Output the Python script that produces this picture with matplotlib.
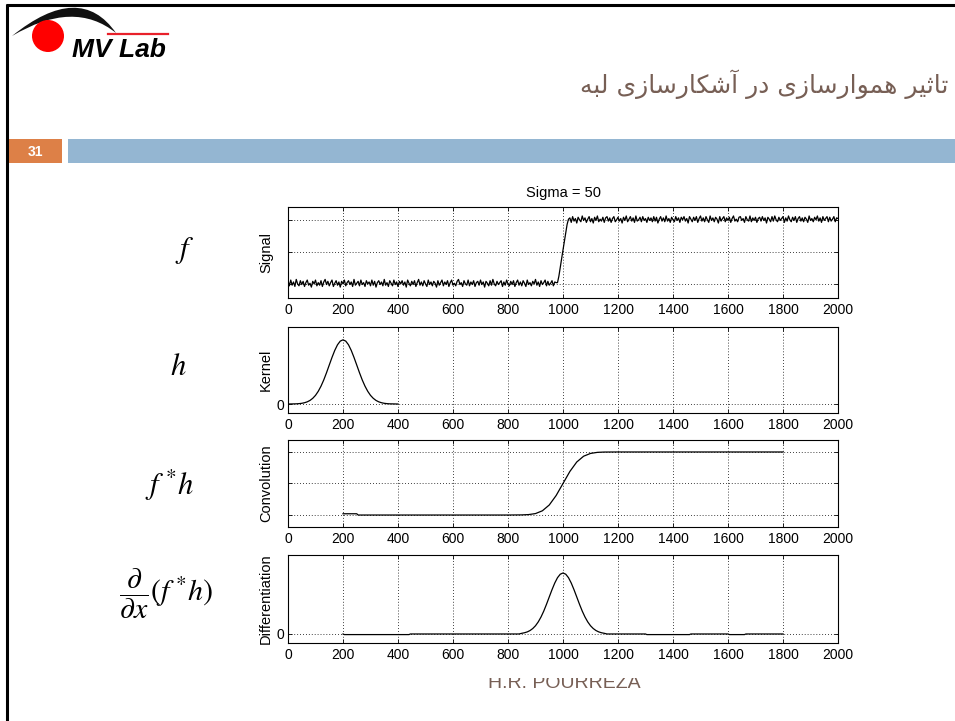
import numpy as np
import matplotlib
matplotlib.use("Agg")
import matplotlib.pyplot as plt
from matplotlib.patches import Rectangle, Circle, PathPatch
from matplotlib.path import Path

plt.rcParams["font.family"] = ["Liberation Sans", "DejaVu Sans"]
plt.rcParams["mathtext.fontset"] = "stix"

# ---- data ----
x_ticks = [0, 200, 400, 600, 800, 1000, 1200, 1400, 1600, 1800, 2000]

# noisy step signal, sampled every 5 units (0..2000)
signal_x = np.arange(0, 2001, 5)
signal_low = [
    0.05, -0.03, 0.06, -0.02, 0.03, -0.04, 0.07, 0.00, -0.03, 0.05, -0.01, 0.04, -0.04, 0.02,
    0.06, -0.02, 0.01, -0.05, 0.04, 0.00, 0.06, -0.03, 0.02, -0.02, 0.05, -0.04, 0.03, 0.07,
    -0.01, 0.04, -0.03, 0.02, 0.06, -0.04, 0.01, 0.05, -0.02, 0.03, -0.05, 0.04, 0.00, 0.06,
    -0.03, 0.02, 0.05, -0.01, 0.03, -0.04, 0.07, -0.02, 0.01, 0.04, -0.03, 0.06, -0.01, 0.02,
    -0.04, 0.05, 0.00, 0.03, -0.03, 0.06, -0.02, 0.04, -0.05, 0.02, 0.05, -0.01, 0.03, -0.03,
    0.07, -0.02, 0.02, -0.04, 0.05, 0.01, -0.03, 0.06, -0.01, 0.03, -0.04, 0.04, 0.00, 0.05,
    -0.02, 0.03, -0.05, 0.06, 0.01, -0.03, 0.04, -0.01, 0.05, -0.04, 0.02, 0.07, -0.02, 0.03,
    -0.03, 0.05, 0.00, -0.04, 0.06, -0.01, 0.03, -0.03, 0.04, 0.01, -0.05, 0.05, -0.02, 0.02,
    0.06, -0.03, 0.03, -0.01, 0.05, -0.04, 0.02, 0.06, -0.02, 0.01, -0.03, 0.04, 0.07, -0.01,
    0.02, -0.04, 0.05, 0.00, -0.02, 0.06, -0.03, 0.03, -0.01, 0.05, -0.04, 0.02, 0.04, -0.02,
    0.06, -0.01, 0.03, -0.05, 0.04, 0.01, -0.03, 0.05, -0.02, 0.07, 0.00, -0.03, 0.04, -0.01,
    0.02, 0.05, -0.04, 0.03, -0.02, 0.06, 0.00, -0.03, 0.04, -0.01, 0.05, -0.04, 0.02, 0.06,
    -0.02, 0.03, -0.03, 0.05, 0.01, -0.04, 0.06, -0.01, 0.02, -0.03, 0.04, 0.00, 0.07, -0.02,
    0.03, -0.04, 0.05, -0.01, 0.02, 0.06, -0.03, 0.04, -0.02, 0.01, 0.05, -0.03, 0.03, 0.02,
]
signal_ramp = [0.02, 0.12, 0.26, 0.40, 0.53, 0.66, 0.80, 0.93, 1.01]
signal_high = [
    1.03, 0.96, 1.05, 0.98, 1.02, 0.95, 1.04, 1.00, 0.97, 1.06, 0.99, 1.03, 0.96, 1.01,
    1.05, 0.97, 1.02, 0.95, 1.04, 0.99, 1.06, 0.97, 1.01, 0.98, 1.04, 0.96, 1.03, 1.05,
    0.98, 1.03, 0.96, 1.02, 1.05, 0.97, 1.00, 1.04, 0.98, 1.02, 0.95, 1.04, 0.99, 1.06,
    0.97, 1.01, 1.05, 0.98, 1.03, 0.96, 1.06, 0.98, 1.00, 1.04, 0.97, 1.05, 0.99, 1.02,
    0.96, 1.04, 0.99, 1.03, 0.97, 1.05, 0.98, 1.04, 0.95, 1.01, 1.05, 0.98, 1.03, 0.97,
    1.06, 0.98, 1.02, 0.96, 1.04, 1.00, 0.97, 1.05, 0.99, 1.03, 0.96, 1.04, 1.00, 1.05,
    0.98, 1.02, 0.95, 1.05, 1.01, 0.97, 1.04, 0.99, 1.05, 0.96, 1.02, 1.06, 0.98, 1.03,
    0.97, 1.05, 1.00, 0.96, 1.06, 0.99, 1.03, 0.97, 1.04, 1.01, 0.95, 1.05, 0.98, 1.02,
    1.05, 0.97, 1.03, 0.99, 1.04, 0.96, 1.02, 1.06, 0.98, 1.01, 0.97, 1.04, 1.05, 0.99,
    1.02, 0.96, 1.05, 1.00, 0.98, 1.06, 0.97, 1.03, 0.99, 1.04, 0.96, 1.02, 1.04, 0.98,
    1.05, 0.99, 1.03, 0.95, 1.04, 1.01, 0.97, 1.05, 0.98, 1.06, 1.00, 0.97, 1.04, 0.99,
    1.02, 1.05, 0.96, 1.03, 0.98, 1.06, 1.00, 0.97, 1.04, 0.99, 1.05, 0.96, 1.02, 1.05,
    0.98, 1.03, 0.97, 1.04, 1.01, 0.96, 1.06, 0.99, 1.02, 0.97, 1.04, 1.00, 1.06, 0.98,
    1.03, 0.96, 1.05, 0.99, 1.02, 1.05, 0.97, 1.04, 0.98, 1.01, 1.05, 0.97, 1.03, 1.02,
]
signal_y = signal_low + signal_ramp + signal_high

# gaussian kernel (sigma = 50), normalised to peak 1
kernel_x = np.arange(0, 401, 10)
kernel_y = [0.000, 0.001, 0.002, 0.003, 0.006, 0.011, 0.020, 0.034, 0.056, 0.089,
            0.135, 0.198, 0.278, 0.375, 0.487, 0.607, 0.726, 0.835, 0.923, 0.980,
            1.000,
            0.980, 0.923, 0.835, 0.726, 0.607, 0.487, 0.375, 0.278, 0.198, 0.135,
            0.089, 0.056, 0.034, 0.020, 0.011, 0.006, 0.003, 0.002, 0.001, 0.000]

# smoothed signal
conv_x = [200, 250, 255, 800, 850, 875, 900, 925, 950, 975, 1000,
          1025, 1050, 1075, 1100, 1125, 1150, 1200, 1800]
conv_y = [0.02, 0.02, 0.0, 0.0, 0.002, 0.007, 0.023, 0.067, 0.159, 0.309, 0.500,
          0.691, 0.841, 0.933, 0.977, 0.994, 0.999, 1.0, 1.0]

# derivative of the smoothed signal
peak_x = list(range(850, 1151, 10))
peak_y = [0.011, 0.020, 0.034, 0.056, 0.089, 0.135, 0.198, 0.278, 0.375, 0.487,
          0.607, 0.726, 0.835, 0.923, 0.980, 1.000, 0.980, 0.923, 0.835, 0.726,
          0.607, 0.487, 0.375, 0.278, 0.198, 0.135, 0.089, 0.056, 0.034, 0.020,
          0.011]
diff_x = [200, 205, 440, 445, 840] + peak_x + [1160, 1300, 1305, 1460, 1465,
                                               1600, 1605, 1660, 1665, 1800]
diff_y = [0.0, -0.01, -0.01, 0.0, 0.0] + peak_y + [0.0, 0.0, -0.01, -0.01, 0.0,
                                                   0.0, -0.01, -0.01, 0.0, 0.0]

# ---- persian title: join letters by hand (matplotlib does no shaping) ----
FORMS = {  # isolated, final, initial, medial
    "ا": ("\uFE8D", "\uFE8E", None, None),
    "آ": ("\uFE81", "\uFE82", None, None),
    "ب": ("\uFE8F", "\uFE90", "\uFE91", "\uFE92"),
    "ت": ("\uFE95", "\uFE96", "\uFE97", "\uFE98"),
    "ث": ("\uFE99", "\uFE9A", "\uFE9B", "\uFE9C"),
    "د": ("\uFEA9", "\uFEAA", None, None),
    "ر": ("\uFEAD", "\uFEAE", None, None),
    "ز": ("\uFEAF", "\uFEB0", None, None),
    "س": ("\uFEB1", "\uFEB2", "\uFEB3", "\uFEB4"),
    "ش": ("\uFEB5", "\uFEB6", "\uFEB7", "\uFEB8"),
    "ک": ("\uFB8E", "\uFB8F", "\uFB90", "\uFB91"),
    "ل": ("\uFEDD", "\uFEDE", "\uFEDF", "\uFEE0"),
    "م": ("\uFEE1", "\uFEE2", "\uFEE3", "\uFEE4"),
    "ه": ("\uFEE9", "\uFEEA", "\uFEEB", "\uFEEC"),
    "و": ("\uFEED", "\uFEEE", None, None),
    "ی": ("\uFBFC", "\uFBFD", "\uFBFE", "\uFBFF"),
}


def shape(text):
    out = []
    for i, ch in enumerate(text):
        if ch not in FORMS:
            out.append(ch)
            continue
        prev = text[i - 1] if i > 0 else ""
        nxt = text[i + 1] if i + 1 < len(text) else ""
        iso, fin, ini, med = FORMS[ch]
        joins_prev = prev in FORMS and FORMS[prev][2] is not None
        joins_next = ini is not None and nxt in FORMS
        if joins_prev and joins_next:
            out.append(med)
        elif joins_prev:
            out.append(fin)
        elif joins_next:
            out.append(ini)
        else:
            out.append(iso)
    return "".join(reversed(out))


title_fa = "تاثیر هموارسازی در آشکارسازی لبه"
brown = "#775F55"

# ---- slide background ----
W, H = 955, 721
fig = plt.figure(figsize=(W / 100, H / 100), dpi=100)
bg = fig.add_axes([0, 0, 1, 1])
bg.set_xlim(0, W)
bg.set_ylim(H, 0)
bg.axis("off")

# frame
bg.plot([6, W], [5, 5], color="black", lw=2.2, solid_capstyle="butt")
bg.plot([7, 7], [4, H], color="black", lw=2.2, solid_capstyle="butt")

# logo
swoosh = Path([(12, 36), (80, -19), (116, 33), (74, -1), (12, 36), (12, 36)],
              [Path.MOVETO, Path.CURVE3, Path.CURVE3, Path.CURVE3, Path.CURVE3,
               Path.CLOSEPOLY])
bg.add_patch(PathPatch(swoosh, facecolor="#111111", edgecolor="none"))
bg.add_patch(Circle((48, 36), 16, facecolor="#FF0000", edgecolor="none"))
bg.plot([108, 168], [33.5, 33.5], color="#E8202A", lw=1.6)
bg.text(72, 57, "MV Lab", fontsize=19, fontweight="bold", fontstyle="italic",
        color="black", ha="left", va="baseline")

# title
bg.text(948, 84, shape(title_fa), fontsize=18, color=brown,
        family="DejaVu Sans", ha="right", va="center")

# slide number bar
bg.add_patch(Rectangle((8, 139), 54, 24, facecolor="#DD8047", edgecolor="none"))
bg.add_patch(Rectangle((68, 139), W - 68, 24, facecolor="#94B6D2", edgecolor="none"))
bg.text(35, 151.5, "31", fontsize=10, fontweight="bold", color="white",
        ha="center", va="center")

# footer (its top is hidden under the pasted figure)
bg.text(564, 688, "H.R. POURREZA", fontsize=14, color=brown,
        ha="center", va="baseline", zorder=1)
bg.add_patch(Rectangle((255, 175), 610, 503, facecolor="white",
                       edgecolor="none", zorder=2))

# math labels on the left
bg.text(185, 251, r"$f$", fontsize=22, ha="center", va="center", zorder=3)
bg.text(178, 367, r"$h$", fontsize=22, ha="center", va="center", zorder=3)
bg.text(170, 485, r"$f\ ^{*}h$", fontsize=22, ha="center", va="center", zorder=3)
bg.text(166, 594, r"$\dfrac{\partial}{\partial x}(f\ ^{*}h)$", fontsize=21.5,
        ha="center", va="center", zorder=3)

# ---- the four plots ----
left, width = 288 / W, 550 / W


def panel(top, bottom):
    ax = fig.add_axes([left, 1 - bottom / H, width, (bottom - top) / H])
    ax.set_xlim(0, 2000)
    ax.set_xticks(x_ticks)
    ax.grid(True, color="black", linestyle=(0, (1, 2.5)), linewidth=0.6)
    ax.tick_params(direction="in", length=3, top=True, right=True,
                   labelsize=10, pad=3.5, width=0.6)
    ax.tick_params(axis="y", pad=2.5)
    for s in ax.spines.values():
        s.set_linewidth(0.8)
    ax.yaxis.set_label_coords(-0.027, 0.5)
    return ax


ax1 = panel(207, 298)
ax1.plot(signal_x, signal_y, color="black", lw=0.9)
ax1.set_ylim(-0.22, 1.2)
ax1.set_yticks([0, 0.5, 1])
ax1.set_yticklabels([])
ax1.set_ylabel("Signal", fontsize=10.5)
ax1.set_title("Sigma = 50", fontsize=10.5, pad=7)

ax2 = panel(327, 413)
ax2.plot(kernel_x, kernel_y, color="black", lw=0.9)
ax2.set_ylim(-0.14, 1.2)
ax2.set_yticks([0])
ax2.set_ylabel("Kernel", fontsize=10.5)

ax3 = panel(440, 527)
ax3.plot(conv_x, conv_y, color="black", lw=0.9)
ax3.set_ylim(-0.19, 1.19)
ax3.set_yticks([0, 0.5, 1])
ax3.set_yticklabels([])
ax3.set_ylabel("Convolution", fontsize=10.5)

ax4 = panel(555, 643)
ax4.plot(diff_x, diff_y, color="black", lw=0.9)
ax4.set_ylim(-0.148, 1.295)
ax4.set_yticks([0])
ax4.set_ylabel("Differentiation", fontsize=10.5)

fig.savefig("out.png", dpi=100)
